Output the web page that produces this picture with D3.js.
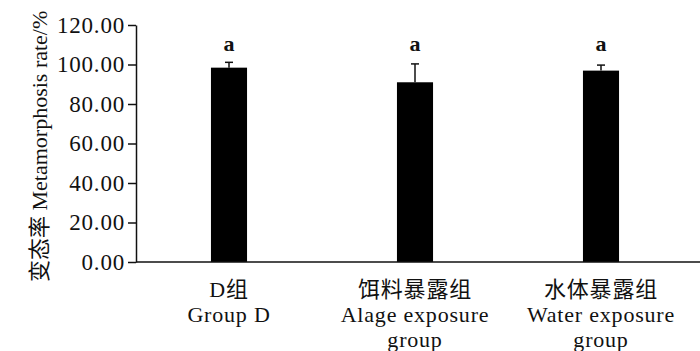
<!DOCTYPE html>
<html>
<head>
<meta charset="utf-8">
<script src="https://cdn.jsdelivr.net/npm/d3@7"></script>
<style>
  body { margin: 0; background: #fff; }
  text { font-family: "Liberation Serif", "Noto Sans CJK SC", serif; fill: #111; }
</style>
</head>
<body>
<div class="chart"></div>
<script>
// data
var groupsCn = ["D组", "饵料暴露组", "水体暴露组"];
var groupsEn = [["Group D"], ["Alage exposure", "group"], ["Water exposure", "group"]];
var rates = [98.4, 91.0, 96.9];
var errs = [2.7, 9.3, 2.8];
var letters = ["a", "a", "a"];
var yTicks = [0, 20, 40, 60, 80, 100, 120];

var width = 700, height = 351;
var margin = {top: 25, right: 6, bottom: 89, left: 136};

var svg = d3.select(".chart")
    .append("svg")
    .attr("width", width)
    .attr("height", height);

var x = d3.scaleBand()
    .domain(groupsCn)
    .range([margin.left, width - margin.right])
    .paddingInner(0.806)
    .paddingOuter(0.403);

var y = d3.scaleLinear()
    .domain([0, 120])
    .range([height - margin.bottom, margin.top]);

var i = function(d) { return groupsCn.indexOf(d); };

// bars
svg.append("g")
    .selectAll("rect")
    .data(groupsCn)
  .enter().append("rect")
    .attr("x", function(d) { return x(d); })
    .attr("width", x.bandwidth())
    .attr("y", function(d) { return y(rates[i(d)]); })
    .attr("height", function(d) { return y(0) - y(rates[i(d)]); })
    .attr("fill", "#000");

// upper error bars
var eb = svg.append("g")
    .attr("stroke", "#111")
    .attr("stroke-width", 1.5);

groupsCn.forEach(function(d, k) {
  var cx = x(d) + x.bandwidth() / 2;
  eb.append("line")
      .attr("x1", cx).attr("x2", cx)
      .attr("y1", y(rates[k])).attr("y2", y(rates[k] + errs[k]));
  eb.append("line")
      .attr("x1", cx - 4).attr("x2", cx + 4)
      .attr("y1", y(rates[k] + errs[k])).attr("y2", y(rates[k] + errs[k]));
});

// significance letters
svg.append("g")
    .selectAll("text")
    .data(groupsCn)
  .enter().append("text")
    .attr("x", function(d) { return x(d) + x.bandwidth() / 2; })
    .attr("y", 51)
    .attr("text-anchor", "middle")
    .style("font-size", "22px")
    .style("font-weight", "bold")
    .text(function(d) { return letters[i(d)]; });

// y axis
var yAxis = svg.append("g")
    .attr("transform", "translate(" + margin.left + ",0)")
    .call(d3.axisLeft(y)
      .tickValues(yTicks)
      .tickFormat(d3.format(".2f"))
      .tickSize(8)
      .tickSizeOuter(0)
      .tickPadding(3));

yAxis.attr("font-family", null);
yAxis.select(".domain").attr("stroke", "#111").attr("stroke-width", 1.5);
yAxis.selectAll(".tick line").attr("stroke", "#111").attr("stroke-width", 1.5);
yAxis.selectAll(".tick text")
    .style("font-size", "23px")
    .style("letter-spacing", "0.8px")
    .style("font-family", "'Liberation Serif', serif")
    .attr("fill", "#111");

// x axis line
svg.append("line")
    .attr("x1", margin.left)
    .attr("x2", width)
    .attr("y1", y(0))
    .attr("y2", y(0))
    .attr("stroke", "#111")
    .attr("stroke-width", 1.5);

// x labels
var xl = svg.append("g")
    .selectAll("text")
    .data(groupsCn)
  .enter().append("text")
    .attr("text-anchor", "middle")
    .style("font-size", "22px")
    .style("letter-spacing", "0.8px");

xl.each(function(d) {
  var t = d3.select(this);
  var cx = x(d) + x.bandwidth() / 2;
  t.append("tspan").attr("x", cx).attr("y", 297).text(d);
  groupsEn[i(d)].forEach(function(line, j) {
    t.append("tspan").attr("x", cx).attr("y", 322 + j * 25).text(line);
  });
});

// y title
svg.append("text")
    .attr("transform", "translate(47,282) rotate(-90)")
    .attr("text-anchor", "start")
    .style("font-size", "22px")
    .text("变态率 Metamorphosis rate/%");
</script>
</body>
</html>
